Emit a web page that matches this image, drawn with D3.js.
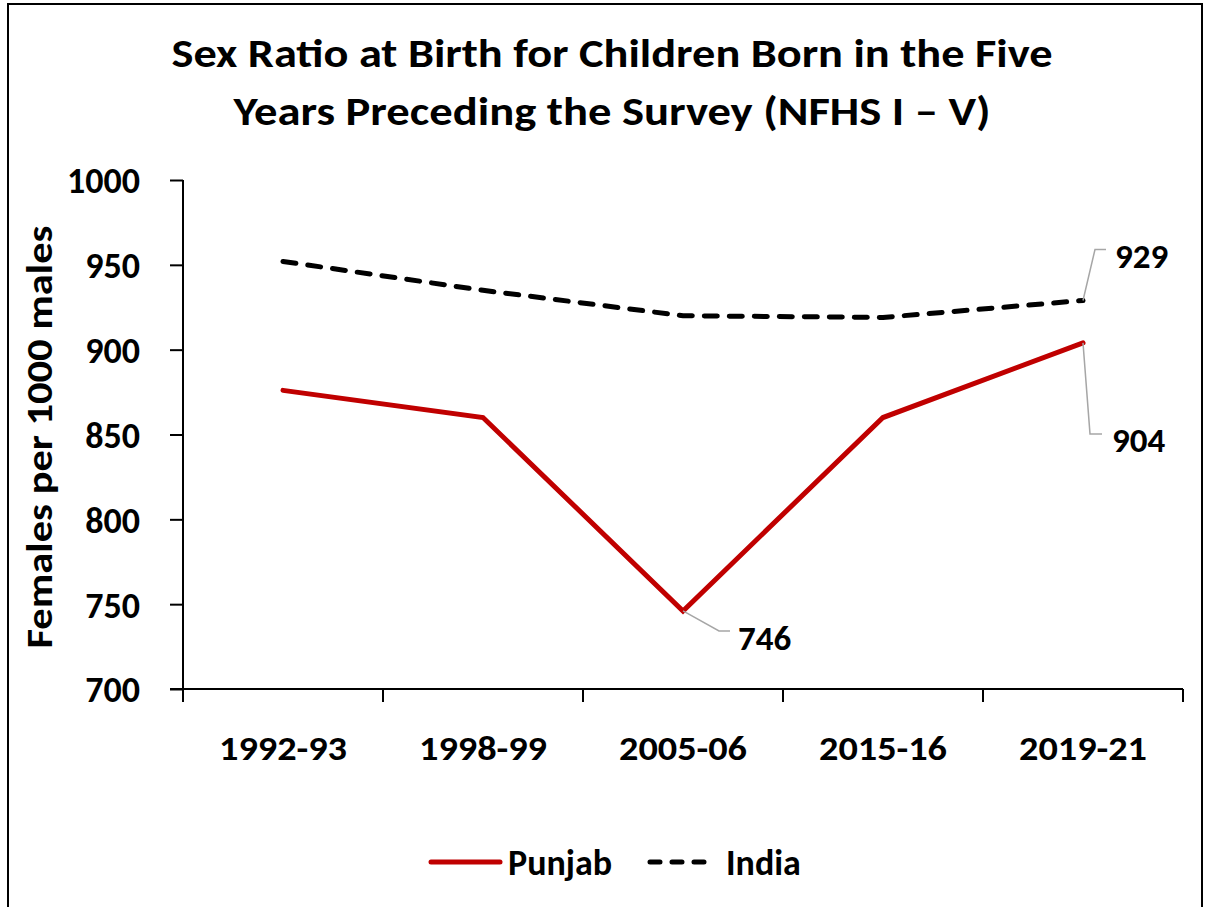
<!DOCTYPE html>
<html>
<head>
<meta charset="utf-8">
<script src="https://cdn.jsdelivr.net/npm/d3@7"></script>
<style>
  html, body { margin: 0; padding: 0; background: #fff; }
  svg { display: block; }
  text { font-family: Carlito, Calibri, Lato, sans-serif; font-weight: bold; fill: #000; }
</style>
</head>
<body>
<script>
const categories = ["1992-93", "1998-99", "2005-06", "2015-16", "2019-21"];
const punjabValues = [876, 860, 746, 860, 904];
const indiaValues = [952, 935, 920, 919, 929];
const yTicks = [700, 750, 800, 850, 900, 950, 1000];
const seriesNames = ["Punjab", "India"];
const titleLines = ["Sex Ratio at Birth for Children Born in the Five", "Years Preceding the Survey (NFHS I \u2013 V)"];
const yAxisTitle = "Females per 1000 males";

const W = 1209, H = 907;
const FONT = "Carlito, Calibri, Lato, sans-serif";
const svg = d3.select("body").append("svg").attr("width", W).attr("height", H);

// outer frame
svg.append("rect").attr("x", 8).attr("y", 4).attr("width", 1194).attr("height", 920)
  .attr("fill", "none").attr("stroke", "#000").attr("stroke-width", 2);

const x = d3.scaleBand().domain(categories).range([183, 1183]).padding(0);
const y = d3.scaleLinear().domain([700, 1000]).range([689, 180]);

// title
const titleWidths = [881, 757];
svg.append("g").selectAll("text").data(titleLines).join("text")
  .attr("x", 612).attr("y", (d, i) => 67 + i * 58)
  .attr("text-anchor", "middle").attr("font-size", 40)
  .attr("textLength", (d, i) => titleWidths[i]).attr("lengthAdjust", "spacingAndGlyphs")
  .text(d => d);

// y axis
const yAxis = svg.append("g").attr("transform", "translate(183,0)")
  .call(d3.axisLeft(y).tickValues(yTicks).tickSize(13).tickPadding(30).tickFormat(d3.format("d")));
yAxis.select(".domain").attr("stroke", "#000").attr("stroke-width", 2).attr("d", "M0,180V689");
yAxis.selectAll(".tick line").attr("stroke", "#000").attr("stroke-width", 2);
yAxis.selectAll(".tick text").attr("font-size", 36).attr("dy", "0.36em")
  .style("font-family", FONT).style("font-weight", "bold");

// x axis
const xAxis = svg.append("g").attr("transform", "translate(0,689)")
  .call(d3.axisBottom(x).tickSize(0).tickPadding(47));
xAxis.select(".domain").attr("stroke", "#000").attr("stroke-width", 2).attr("d", "M170,0H1183");
xAxis.selectAll(".tick text").attr("font-size", 34)
  .attr("textLength", 128).attr("lengthAdjust", "spacingAndGlyphs")
  .style("font-family", FONT).style("font-weight", "bold");
// category boundary ticks
const bounds = categories.map(c => x(c)).concat([x(categories[categories.length - 1]) + x.bandwidth()]);
svg.append("g").selectAll("line").data(bounds).join("line")
  .attr("x1", d => d).attr("x2", d => d).attr("y1", 689).attr("y2", 702)
  .attr("stroke", "#000").attr("stroke-width", 2);

// y axis title
svg.append("text").attr("transform", "translate(52,437) rotate(-90)")
  .attr("text-anchor", "middle").attr("font-size", 37)
  .attr("textLength", 423).attr("lengthAdjust", "spacingAndGlyphs").text(yAxisTitle);

const cx = c => x(c) + x.bandwidth() / 2;
const line = d3.line().x(d => cx(d[0])).y(d => y(d[1]));

svg.append("path").datum(categories.map((c, i) => [c, indiaValues[i]]))
  .attr("d", line).attr("fill", "none").attr("stroke", "#000").attr("stroke-width", 5)
  .attr("stroke-dasharray", "13,12").attr("stroke-linecap", "round");
svg.append("path").datum(categories.map((c, i) => [c, punjabValues[i]]))
  .attr("d", line).attr("fill", "none").attr("stroke", "#C00000").attr("stroke-width", 5)
  .attr("stroke-linejoin", "miter").attr("stroke-linecap", "round");

// data labels with leader lines
const labels = [
  { cat: "2019-21", v: indiaValues[4], dx1: 12, dy1: -51, dx2: 23, tx: 32 },
  { cat: "2019-21", v: punjabValues[4], dx1: 7, dy1: 91, dx2: 19, tx: 29 },
  { cat: "2005-06", v: punjabValues[2], dx1: 36, dy1: 20, dx2: 47, tx: 55 }
];
labels.forEach(l => {
  const px = cx(l.cat), py = y(l.v);
  svg.append("path")
    .attr("d", `M${px},${py}L${px + l.dx1},${py + l.dy1}H${px + l.dx2}`)
    .attr("fill", "none").attr("stroke", "#a6a6a6").attr("stroke-width", 1.5);
  svg.append("text").attr("x", px + l.tx).attr("y", py + l.dy1 + 6).attr("dy", "0.36em")
    .attr("font-size", 35).text(l.v);
});

// legend
const lg = svg.append("g");
lg.append("line").attr("x1", 431).attr("x2", 500).attr("y1", 862).attr("y2", 862)
  .attr("stroke", "#C00000").attr("stroke-width", 5).attr("stroke-linecap", "round");
lg.append("text").attr("x", 508).attr("y", 862).attr("dy", "0.36em").attr("font-size", 36).text(seriesNames[0]);
lg.append("line").attr("x1", 650).attr("x2", 712).attr("y1", 862).attr("y2", 862)
  .attr("stroke", "#000").attr("stroke-width", 5).attr("stroke-linecap", "round")
  .attr("stroke-dasharray", "10,12");
lg.append("text").attr("x", 726).attr("y", 862).attr("dy", "0.36em").attr("font-size", 36).text(seriesNames[1]);
</script>
</body>
</html>
